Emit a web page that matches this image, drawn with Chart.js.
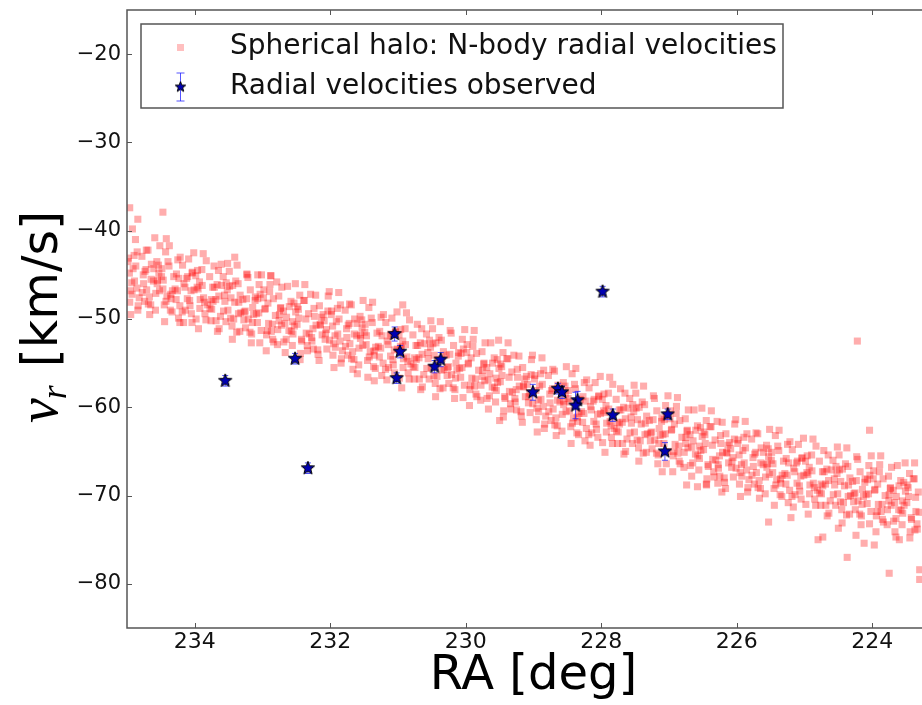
<!DOCTYPE html>
<html>
<head>
<meta charset="utf-8">
<script src="https://cdn.jsdelivr.net/npm/chart.js@4.4.1/dist/chart.umd.min.js"></script>
<style>
html, body { margin: 0; padding: 0; overflow: hidden; background: #fff; }
</style>
</head>
<body>
<canvas id="myChart" width="945" height="705"></canvas>
<script>
// axis ticks
const xTickValues = [234, 232, 230, 228, 226, 224];
const yTickValues = [-80, -70, -60, -50, -40, -30, -20];

// observed stars: RA [deg], v_r [km/s], error
const starRa  = [233.55, 232.52, 232.33, 231.05, 230.97, 231.02, 230.37, 230.46, 229.01, 228.64, 228.58, 228.35, 228.38, 227.98, 227.83, 227.02, 227.06];
const starVr  = [-57.0, -54.5, -66.9, -51.7, -53.7, -56.7, -54.6, -55.4, -58.3, -57.9, -58.3, -59.2, -59.8, -46.9, -60.9, -60.8, -65.0];
const starErr = [0.6, 0.6, 0.6, 0.8, 0.7, 0.6, 0.8, 0.7, 0.9, 0.6, 0.7, 1.0, 1.5, 0.6, 0.7, 0.6, 1.0];

// N-body particles: [RA, v_r]
const haloPointsA = [
[234.98,-43.1],[234.93,-45.9],[234.96,-48.1],[234.91,-44.3],[234.95,-46.8],
[234.89,-45.7],[234.85,-42.4],[234.82,-47.6],[234.87,-44.0],[234.84,-49.0],
[234.76,-45.0],[234.71,-46.7],[234.78,-42.9],[234.74,-48.0],[234.72,-44.4],
[234.67,-47.5],[234.64,-43.8],[234.61,-45.7],[234.69,-42.2],[234.65,-48.4],
[234.53,-44.8],[234.58,-49.0],[234.55,-45.6],[234.52,-46.8],[234.56,-43.5],
[234.45,-48.4],[234.49,-45.2],[234.43,-42.4],[234.47,-46.6],[234.41,-47.4],
[234.38,-44.0],[234.33,-46.8],[234.36,-49.0],[234.31,-45.2],[234.35,-47.7],
[234.29,-46.6],[234.25,-43.3],[234.22,-48.5],[234.27,-44.9],[234.24,-49.9],
[234.16,-46.0],[234.11,-47.7],[234.18,-43.9],[234.14,-49.0],[234.12,-45.4],
[234.07,-48.5],[234.04,-44.8],[234.01,-46.7],[234.09,-43.2],[234.05,-49.4],
[233.93,-45.8],[233.98,-50.0],[233.95,-46.6],[233.92,-47.8],[233.96,-44.5],
[233.85,-49.4],[233.89,-46.2],[233.83,-43.4],[233.87,-47.6],[233.81,-48.4],
[233.78,-45.2],[233.73,-48.0],[233.76,-50.2],[233.71,-46.4],[233.75,-48.9],
[233.69,-47.8],[233.65,-44.5],[233.62,-49.7],[233.67,-46.1],[233.64,-51.1],
[233.56,-47.3],[233.51,-49.0],[233.58,-45.2],[233.54,-50.3],[233.52,-46.7],
[233.47,-49.9],[233.44,-46.2],[233.41,-48.1],[233.49,-44.6],[233.45,-50.8],
[233.33,-47.3],[233.38,-51.5],[233.35,-48.1],[233.32,-49.3],[233.36,-46.0],
[233.25,-51.0],[233.29,-47.8],[233.23,-45.0],[233.27,-49.2],[233.21,-50.0],
[233.18,-46.7],[233.13,-49.5],[233.16,-51.7],[233.11,-47.9],[233.15,-50.4],
[233.09,-49.4],[233.05,-46.1],[233.02,-51.3],[233.07,-47.7],[233.04,-52.7],
[232.96,-48.8],[232.91,-50.5],[232.98,-46.7],[232.94,-51.8],[232.92,-48.2],
[232.87,-51.4],[232.84,-47.7],[232.81,-49.6],[232.89,-46.1],[232.85,-52.3],
[232.73,-48.7],[232.78,-52.9],[232.75,-49.5],[232.72,-50.7],[232.76,-47.4],
[232.65,-52.3],[232.69,-49.1],[232.63,-46.3],[232.67,-50.5],[232.61,-51.3],
[232.58,-48.0],[232.53,-50.8],[232.56,-53.0],[232.51,-49.2],[232.55,-51.7],
[232.49,-50.6],[232.45,-47.3],[232.42,-52.5],[232.47,-48.9],[232.44,-53.9],
[232.36,-50.0],[232.31,-51.7],[232.38,-47.9],[232.34,-53.0],[232.32,-49.4],
[232.27,-52.5],[232.24,-48.8],[232.21,-50.7],[232.29,-47.2],[232.25,-53.4],
[232.13,-49.8],[232.18,-54.0],[232.15,-50.6],[232.12,-51.8],[232.16,-48.5],
[232.05,-53.4],[232.09,-50.2],[232.03,-47.4],[232.07,-51.6],[232.01,-52.4],
[231.98,-49.1],[231.93,-51.9],[231.96,-54.1],[231.91,-50.3],[231.95,-52.8],
[231.89,-51.7],[231.85,-48.4],[231.82,-53.6],[231.87,-50.0],[231.84,-55.0],
[231.76,-51.1],[231.71,-52.8],[231.78,-49.0],[231.74,-54.1],[231.72,-50.5],
[231.67,-53.7],[231.64,-50.0],[231.61,-51.9],[231.69,-48.4],[231.65,-54.6],
[231.53,-51.0],[231.58,-55.2],[231.55,-51.8],[231.52,-53.0],[231.56,-49.7],
[231.45,-54.7],[231.49,-51.5],[231.43,-48.7],[231.47,-52.9],[231.41,-53.7],
[231.38,-50.4],[231.33,-53.2],[231.36,-55.4],[231.31,-51.6],[231.35,-54.1],
[231.29,-53.1],[231.25,-49.8],[231.22,-55.0],[231.27,-51.4],[231.24,-56.4],
[231.16,-52.5],[231.11,-54.2],[231.18,-50.4],[231.14,-55.5],[231.12,-51.9],
[231.07,-55.2],[231.04,-51.5],[231.01,-53.4],[231.09,-49.9],[231.05,-56.1],
[230.93,-52.5],[230.98,-56.7],[230.95,-53.3],[230.92,-54.5],[230.96,-51.2],
[230.85,-56.1],[230.89,-52.9],[230.83,-50.1],[230.87,-54.3],[230.81,-55.1],
[230.78,-51.8],[230.73,-54.6],[230.76,-56.8],[230.71,-53.0],[230.75,-55.5],
[230.69,-54.4],[230.65,-51.1],[230.62,-56.3],[230.67,-52.7],[230.64,-57.7],
[230.56,-53.8],[230.51,-55.5],[230.58,-51.7],[230.54,-56.8],[230.52,-53.2],
[230.47,-56.4],[230.44,-52.7],[230.41,-54.6],[230.49,-51.1],[230.45,-57.3],
[230.33,-53.7],[230.38,-57.9],[230.35,-54.5],[230.32,-55.7],[230.36,-52.4],
[230.25,-57.3],[230.29,-54.1],[230.23,-51.3],[230.27,-55.5],[230.21,-56.3],
[230.18,-53.0],[230.13,-55.8],[230.16,-58.0],[230.11,-54.2],[230.15,-56.7],
[230.09,-55.6],[230.05,-52.3],[230.02,-57.5],[230.07,-53.9],[230.04,-58.9],
[229.96,-55.0],[229.91,-56.7],[229.98,-52.9],[229.94,-58.0],[229.92,-54.4],
[229.87,-57.6],[229.84,-53.9],[229.81,-55.8],[229.89,-52.3],[229.85,-58.5],
[229.73,-55.0],[229.78,-59.2],[229.75,-55.8],[229.72,-57.0],[229.76,-53.7],
[229.65,-58.7],[229.69,-55.5],[229.63,-52.7],[229.67,-56.9],[229.61,-57.7],
[229.58,-54.4],[229.53,-57.2],[229.56,-59.4],[229.51,-55.6],[229.55,-58.1],
[229.49,-57.1],[229.45,-53.8],[229.42,-59.0],[229.47,-55.4],[229.44,-60.4],
[229.36,-56.6],[229.31,-58.3],[229.38,-54.5],[229.34,-59.6],[229.32,-56.0],
[229.27,-59.4],[229.24,-55.7],[229.21,-57.6],[229.29,-54.1],[229.25,-60.3],
[229.13,-56.8],[229.18,-61.0],[229.15,-57.6],[229.12,-58.8],[229.16,-55.5],
[229.05,-60.6],[229.09,-57.4],[229.03,-54.6],[229.07,-58.8],[229.01,-59.6],
[228.98,-56.4],[228.93,-59.2],[228.96,-61.4],[228.91,-57.6],[228.95,-60.1],
[228.89,-59.1],[228.85,-55.8],[228.82,-61.0],[228.87,-57.4],[228.84,-62.4],
[228.76,-58.5],[228.71,-60.2],[228.78,-56.4],[228.74,-61.5],[228.72,-57.9],
[228.67,-61.2],[228.64,-57.5],[228.61,-59.4],[228.69,-55.9],[228.65,-62.1],
[228.53,-58.5],[228.58,-62.7],[228.55,-59.3],[228.52,-60.5],[228.56,-57.2],
[228.45,-62.2],[228.49,-59.0],[228.43,-56.2],[228.47,-60.4],[228.41,-61.2],
[228.38,-57.9],[228.33,-60.7],[228.36,-62.9],[228.31,-59.1],[228.35,-61.6],
[228.29,-60.5],[228.25,-57.2],[228.22,-62.4],[228.27,-58.8],[228.24,-63.8],
[228.16,-59.9],[228.11,-61.6],[228.18,-57.8],[228.14,-62.9],[228.12,-59.3],
[228.07,-62.5],[228.04,-58.8],[228.01,-60.7],[228.09,-57.2],[228.05,-63.4],
[227.93,-59.8],[227.98,-64.0],[227.95,-60.6],[227.92,-61.8],[227.96,-58.5],
[227.85,-63.4],[227.89,-60.2],[227.83,-57.4],[227.87,-61.6],[227.81,-62.4],
[227.78,-59.1],[227.73,-61.9],[227.76,-64.1],[227.71,-60.3],[227.75,-62.8],
[227.69,-61.7],[227.65,-58.4],[227.62,-63.6],[227.67,-60.0],[227.64,-65.0],
[227.56,-61.1],[227.51,-62.8],[227.58,-59.0],[227.54,-64.1],[227.52,-60.5],
[227.47,-63.7],[227.44,-60.0],[227.41,-61.9],[227.49,-58.4],[227.45,-64.6],
[227.33,-61.0],[227.38,-65.2],[227.35,-61.8],[227.32,-63.0],[227.36,-59.7],
[227.25,-64.7],[227.29,-61.5],[227.23,-58.7],[227.27,-62.9],[227.21,-63.7],
[227.18,-60.4],[227.13,-63.2],[227.16,-65.4],[227.11,-61.6],[227.15,-64.1],
[227.09,-63.1],[227.05,-59.8],[227.02,-65.0],[227.07,-61.4],[227.04,-66.4],
[226.96,-62.5],[226.91,-64.2],[226.98,-60.4],[226.94,-65.5],[226.92,-61.9],
[226.87,-65.2],[226.84,-61.5],[226.81,-63.4],[226.89,-59.9],[226.85,-66.1],
[226.73,-62.6],[226.78,-66.8],[226.75,-63.4],[226.72,-64.6],[226.76,-61.3],
[226.65,-66.3],[226.69,-63.1],[226.63,-60.3],[226.67,-64.5],[226.61,-65.3],
[226.58,-62.1],[226.53,-64.9],[226.56,-67.1],[226.51,-63.3],[226.55,-65.8],
[226.49,-64.8],[226.45,-61.5],[226.42,-66.7],[226.47,-63.1],[226.44,-68.1],
[226.36,-64.3],[226.31,-66.0],[226.38,-62.2],[226.34,-67.3],[226.32,-63.7],
[226.27,-66.9],[226.24,-63.2],[226.21,-65.1],[226.29,-61.6],[226.25,-67.8],
[226.13,-64.3],[226.18,-68.5],[226.15,-65.1],[226.12,-66.3],[226.16,-63.0],
[226.05,-67.9],[226.09,-64.7],[226.03,-61.9],[226.07,-66.1],[226.01,-66.9],
[225.98,-63.7],[225.93,-66.5],[225.96,-68.7],[225.91,-64.9],[225.95,-67.4],
[225.89,-66.3],[225.85,-63.0],[225.82,-68.2],[225.87,-64.6],[225.84,-69.6],
[225.76,-65.7],[225.71,-67.4],[225.78,-63.6],[225.74,-68.7],[225.72,-65.1],
[225.67,-68.3],[225.64,-64.6],[225.61,-66.5],[225.69,-63.0],[225.65,-69.2],
[225.53,-65.6],[225.58,-69.8],[225.55,-66.4],[225.52,-67.6],[225.56,-64.3],
[225.45,-69.2],[225.49,-66.0],[225.43,-63.2],[225.47,-67.4],[225.41,-68.2],
[225.38,-64.9],[225.33,-67.7],[225.36,-69.9],[225.31,-66.1],[225.35,-68.6],
[225.29,-67.5],[225.25,-64.2],[225.22,-69.4],[225.27,-65.8],[225.24,-70.8],
[225.16,-66.9],[225.11,-68.6],[225.18,-64.8],[225.14,-69.9],[225.12,-66.3],
[225.07,-69.5],[225.04,-65.8],[225.01,-67.7],[225.09,-64.2],[225.05,-70.4],
[224.93,-66.8],[224.98,-71.0],[224.95,-67.6],[224.92,-68.8],[224.96,-65.5],
[224.85,-70.4],[224.89,-67.2],[224.83,-64.4],[224.87,-68.6],[224.81,-69.4],
[224.78,-66.1],[224.73,-68.9],[224.76,-71.1],[224.71,-67.3],[224.75,-69.8],
[224.69,-68.7],[224.65,-65.4],[224.62,-70.6],[224.67,-67.0],[224.64,-72.0],
[224.56,-68.1],[224.51,-69.8],[224.58,-66.0],[224.54,-71.1],[224.52,-67.5],
[224.47,-70.7],[224.44,-67.0],[224.41,-68.9],[224.49,-65.4],[224.45,-71.6],
[224.33,-68.0],[224.38,-72.2],[224.35,-68.8],[224.32,-70.0],[224.36,-66.7],
[224.25,-71.6],[224.29,-68.4],[224.23,-65.6],[224.27,-69.8],[224.21,-70.6],
[224.18,-67.3],[224.13,-70.1],[224.16,-72.3],[224.11,-68.5],[224.15,-71.0],
[224.09,-69.9],[224.05,-66.6],[224.02,-71.8],[224.07,-68.2],[224.04,-73.2],
[223.96,-69.3],[223.91,-71.0],[223.98,-67.2],[223.94,-72.3],[223.92,-68.7],
[223.87,-71.8],[223.84,-68.1],[223.81,-70.0],[223.89,-66.5],[223.85,-72.7],
[223.73,-69.1],[223.78,-73.3],[223.75,-69.9],[223.72,-71.1],[223.76,-67.8],
[223.65,-72.6],[223.69,-69.4],[223.63,-66.6],[223.67,-70.8],[223.61,-71.6],
[223.58,-68.3],[223.53,-71.1],[223.56,-73.3],[223.51,-69.5],[223.55,-72.0],
[223.49,-70.8],[223.45,-67.5],[223.42,-72.7],[223.47,-69.1],[223.44,-74.1],
[223.36,-70.2],[223.31,-71.9],[223.38,-68.1],[223.34,-73.2],[223.32,-69.6],
// stragglers
[234.96,-37.4],[234.47,-37.9],[234.84,-38.7],[234.92,-39.8],[234.59,-40.8],[234.42,-40.9],
[234.22,-50.4],[234.04,-50.4],[233.41,-43.0],[233.61,-43.8],[233.23,-44.9],[233.07,-45.0],
[232.88,-45.1],[232.79,-45.8],[230.93,-48.4],[231.60,-56.2],[231.35,-57.0],[229.50,-61.5],
[227.10,-67.3],[226.74,-68.8],[226.58,-69.0],[226.45,-68.7],[226.28,-68.6],[226.22,-69.6],
[224.22,-52.5],[224.04,-62.6],[223.75,-78.8],[223.30,-78.4],[223.30,-79.5],[224.37,-77.0],
[224.80,-75.0],[224.73,-74.7],[224.50,-73.7],[224.24,-74.5],[224.12,-75.4],[223.97,-75.6],
[223.65,-74.7],[223.60,-75.0],[223.37,-73.9],[225.53,-73.0],[225.20,-72.5]
];

const haloPointsB = [
[234.965,-44.8],[234.925,-47.2],[234.985,-43.5],[234.945,-49.5],
[234.855,-46.5],[234.895,-42.8],[234.835,-48.5],[234.875,-41.0],
[234.715,-42.2],[234.755,-46.0],[234.775,-47.0],[234.735,-44.6],
[234.685,-48.3],[234.605,-44.3],[234.645,-45.5],[234.665,-49.5],
[234.535,-43.9],[234.575,-47.1],[234.515,-41.7],[234.555,-46.0],
[234.465,-45.6],[234.425,-48.0],[234.485,-44.3],[234.445,-50.3],
[234.355,-47.2],[234.395,-43.5],[234.335,-49.2],[234.375,-41.7],
[234.215,-43.0],[234.255,-46.8],[234.275,-47.8],[234.235,-45.4],
[234.185,-49.2],[234.105,-45.2],[234.145,-46.4],[234.165,-50.4],
[234.035,-44.7],[234.075,-47.9],[234.015,-42.5],[234.055,-46.8],
[233.965,-46.4],[233.925,-48.8],[233.985,-45.1],[233.945,-51.1],
[233.855,-48.1],[233.895,-44.4],[233.835,-50.1],[233.875,-42.6],
[233.715,-44.0],[233.755,-47.8],[233.775,-48.8],[233.735,-46.4],
[233.685,-50.2],[233.605,-46.2],[233.645,-47.4],[233.665,-51.4],
[233.535,-45.9],[233.575,-49.1],[233.515,-43.7],[233.555,-48.0],
[233.465,-47.6],[233.425,-50.0],[233.485,-46.3],[233.445,-52.3],
[233.355,-49.4],[233.395,-45.7],[233.335,-51.4],[233.375,-43.9],
[233.215,-45.3],[233.255,-49.1],[233.275,-50.1],[233.235,-47.7],
[233.185,-51.5],[233.105,-47.5],[233.145,-48.7],[233.165,-52.7],
[233.035,-47.2],[233.075,-50.4],[233.015,-45.0],[233.055,-49.3],
[232.965,-48.9],[232.925,-51.3],[232.985,-47.6],[232.945,-53.6],
[232.855,-50.6],[232.895,-46.9],[232.835,-52.6],[232.875,-45.1],
[232.715,-46.4],[232.755,-50.2],[232.775,-51.2],[232.735,-48.8],
[232.685,-52.6],[232.605,-48.6],[232.645,-49.8],[232.665,-53.8],
[232.535,-48.2],[232.575,-51.4],[232.515,-46.0],[232.555,-50.3],
[232.465,-49.9],[232.425,-52.3],[232.485,-48.6],[232.445,-54.6],
[232.355,-51.6],[232.395,-47.9],[232.335,-53.6],[232.375,-46.1],
[232.215,-47.3],[232.255,-51.1],[232.275,-52.1],[232.235,-49.7],
[232.185,-53.5],[232.105,-49.5],[232.145,-50.7],[232.165,-54.7],
[232.035,-49.1],[232.075,-52.3],[232.015,-46.9],[232.055,-51.2],
[231.965,-50.8],[231.925,-53.2],[231.985,-49.5],[231.945,-55.5],
[231.855,-52.5],[231.895,-48.8],[231.835,-54.5],[231.875,-47.0],
[231.715,-48.3],[231.755,-52.1],[231.775,-53.1],[231.735,-50.7],
[231.685,-54.5],[231.605,-50.5],[231.645,-51.7],[231.665,-55.7],
[231.535,-50.1],[231.575,-53.3],[231.515,-47.9],[231.555,-52.2],
[231.465,-51.9],[231.425,-54.3],[231.485,-50.6],[231.445,-56.6],
[231.355,-53.6],[231.395,-49.9],[231.335,-55.6],[231.375,-48.1],
[231.215,-49.5],[231.255,-53.3],[231.275,-54.3],[231.235,-51.9],
[231.185,-55.7],[231.105,-51.7],[231.145,-52.9],[231.165,-56.9],
[231.035,-51.4],[231.075,-54.6],[231.015,-49.2],[231.055,-53.5],
[230.965,-53.1],[230.925,-55.5],[230.985,-51.8],[230.945,-57.8],
[230.855,-54.8],[230.895,-51.1],[230.835,-56.8],[230.875,-49.3],
[230.715,-50.6],[230.755,-54.4],[230.775,-55.4],[230.735,-53.0],
[230.685,-56.8],[230.605,-52.8],[230.645,-54.0],[230.665,-58.0],
[230.535,-52.4],[230.575,-55.6],[230.515,-50.2],[230.555,-54.5],
[230.465,-54.1],[230.425,-56.5],[230.485,-52.8],[230.445,-58.8],
[230.355,-55.8],[230.395,-52.1],[230.335,-57.8],[230.375,-50.3],
[230.215,-51.6],[230.255,-55.4],[230.275,-56.4],[230.235,-54.0],
[230.185,-57.8],[230.105,-53.8],[230.145,-55.0],[230.165,-59.0],
[230.035,-53.4],[230.075,-56.6],[230.015,-51.2],[230.055,-55.5],
[229.965,-55.1],[229.925,-57.5],[229.985,-53.8],[229.945,-59.8],
[229.855,-56.8],[229.895,-53.1],[229.835,-58.8],[229.875,-51.3],
[229.715,-52.7],[229.755,-56.5],[229.775,-57.5],[229.735,-55.1],
[229.685,-59.0],[229.605,-55.0],[229.645,-56.2],[229.665,-60.2],
[229.535,-54.6],[229.575,-57.8],[229.515,-52.4],[229.555,-56.7],
[229.465,-56.4],[229.425,-58.8],[229.485,-55.1],[229.445,-61.1],
[229.355,-58.2],[229.395,-54.5],[229.335,-60.2],[229.375,-52.7],
[229.215,-54.2],[229.255,-58.0],[229.275,-59.0],[229.235,-56.6],
[229.185,-60.5],[229.105,-56.5],[229.145,-57.7],[229.165,-61.7],
[229.035,-56.3],[229.075,-59.5],[229.015,-54.1],[229.055,-58.4],
[228.965,-58.1],[228.925,-60.5],[228.985,-56.8],[228.945,-62.8],
[228.855,-59.9],[228.895,-56.2],[228.835,-61.9],[228.875,-54.4],
[228.715,-55.7],[228.755,-59.5],[228.775,-60.5],[228.735,-58.1],
[228.685,-62.0],[228.605,-58.0],[228.645,-59.2],[228.665,-63.2],
[228.535,-57.6],[228.575,-60.8],[228.515,-55.4],[228.555,-59.7],
[228.465,-59.4],[228.425,-61.8],[228.485,-58.1],[228.445,-64.1],
[228.355,-61.1],[228.395,-57.4],[228.335,-63.1],[228.375,-55.6],
[228.215,-56.9],[228.255,-60.7],[228.275,-61.7],[228.235,-59.3],
[228.185,-63.1],[228.105,-59.1],[228.145,-60.3],[228.165,-64.3],
[228.035,-58.7],[228.075,-61.9],[228.015,-56.5],[228.055,-60.8],
[227.965,-60.4],[227.925,-62.8],[227.985,-59.1],[227.945,-65.1],
[227.855,-62.1],[227.895,-58.4],[227.835,-64.1],[227.875,-56.6],
[227.715,-57.9],[227.755,-61.7],[227.775,-62.7],[227.735,-60.3],
[227.685,-64.1],[227.605,-60.1],[227.645,-61.3],[227.665,-65.3],
[227.535,-59.7],[227.575,-62.9],[227.515,-57.5],[227.555,-61.8],
[227.465,-61.4],[227.425,-63.8],[227.485,-60.1],[227.445,-66.1],
[227.355,-63.1],[227.395,-59.4],[227.335,-65.1],[227.375,-57.6],
[227.215,-59.0],[227.255,-62.8],[227.275,-63.8],[227.235,-61.4],
[227.185,-65.2],[227.105,-61.2],[227.145,-62.4],[227.165,-66.4],
[227.035,-60.9],[227.075,-64.1],[227.015,-58.7],[227.055,-63.0],
[226.965,-62.6],[226.925,-65.0],[226.985,-61.3],[226.945,-67.3],
[226.855,-64.4],[226.895,-60.7],[226.835,-66.4],[226.875,-58.9],
[226.715,-60.3],[226.755,-64.1],[226.775,-65.1],[226.735,-62.7],
[226.685,-66.6],[226.605,-62.6],[226.645,-63.8],[226.665,-67.8],
[226.535,-62.3],[226.575,-65.5],[226.515,-60.1],[226.555,-64.4],
[226.465,-64.1],[226.425,-66.5],[226.485,-62.8],[226.445,-68.8],
[226.355,-65.9],[226.395,-62.2],[226.335,-67.9],[226.375,-60.4],
[226.215,-61.7],[226.255,-65.5],[226.275,-66.5],[226.235,-64.1],
[226.185,-68.0],[226.105,-64.0],[226.145,-65.2],[226.165,-69.2],
[226.035,-63.6],[226.075,-66.8],[226.015,-61.4],[226.055,-65.7],
[225.965,-65.4],[225.925,-67.8],[225.985,-64.1],[225.945,-70.1],
[225.855,-67.1],[225.895,-63.4],[225.835,-69.1],[225.875,-61.6],
[225.715,-62.9],[225.755,-66.7],[225.775,-67.7],[225.735,-65.3],
[225.685,-69.1],[225.605,-65.1],[225.645,-66.3],[225.665,-70.3],
[225.535,-64.7],[225.575,-67.9],[225.515,-62.5],[225.555,-66.8],
[225.465,-66.4],[225.425,-68.8],[225.485,-65.1],[225.445,-71.1],
[225.355,-68.1],[225.395,-64.4],[225.335,-70.1],[225.375,-62.6],
[225.215,-63.9],[225.255,-67.7],[225.275,-68.7],[225.235,-66.3],
[225.185,-70.1],[225.105,-66.1],[225.145,-67.3],[225.165,-71.3],
[225.035,-65.7],[225.075,-68.9],[225.015,-63.5],[225.055,-67.8],
[224.965,-67.4],[224.925,-69.8],[224.985,-66.1],[224.945,-72.1],
[224.855,-69.1],[224.895,-65.4],[224.835,-71.1],[224.875,-63.6],
[224.715,-64.9],[224.755,-68.7],[224.775,-69.7],[224.735,-67.3],
[224.685,-71.1],[224.605,-67.1],[224.645,-68.3],[224.665,-72.3],
[224.535,-66.7],[224.575,-69.9],[224.515,-64.5],[224.555,-68.8],
[224.465,-68.4],[224.425,-70.8],[224.485,-67.1],[224.445,-73.1],
[224.355,-70.1],[224.395,-66.4],[224.335,-72.1],[224.375,-64.6],
[224.215,-65.9],[224.255,-69.7],[224.275,-70.7],[224.235,-68.3],
[224.185,-72.1],[224.105,-68.1],[224.145,-69.3],[224.165,-73.3],
[224.035,-67.7],[224.075,-70.9],[224.015,-65.5],[224.055,-69.8],
[223.965,-69.4],[223.925,-71.8],[223.985,-68.1],[223.945,-74.1],
[223.855,-71.0],[223.895,-67.3],[223.835,-73.0],[223.875,-65.5],
[223.715,-66.8],[223.755,-70.6],[223.775,-71.6],[223.735,-69.2],
[223.685,-72.9],[223.605,-68.9],[223.645,-70.1],[223.665,-74.1],
[223.535,-68.5],[223.575,-71.7],[223.515,-66.3],[223.555,-70.6],
[223.465,-70.1],[223.425,-72.5],[223.485,-68.8],[223.445,-74.8],
[223.355,-71.8],[223.395,-68.1],[223.335,-73.8],[223.375,-66.3]
];

const FONT = '"DejaVu Sans", sans-serif';
const AXIS_COLOR = '#555';

function makeStar(r, fill, edge) {
    var c = document.createElement('canvas');
    var s = Math.ceil(r * 2 + 4);
    c.width = s;
    c.height = s;
    var g = c.getContext('2d');
    g.translate(s / 2, s / 2);
    g.beginPath();
    for (var i = 0; i < 10; i++) {
        var rad = i % 2 === 0 ? r : r * 0.42;
        var a = -Math.PI / 2 + i * Math.PI / 5;
        g.lineTo(rad * Math.cos(a), rad * Math.sin(a));
    }
    g.closePath();
    g.fillStyle = fill;
    g.fill();
    g.lineWidth = 1;
    g.strokeStyle = edge;
    g.stroke();
    return c;
}

const starImg = makeStar(7, '#0000b4', '#000');
const starSmall = makeStar(5.5, '#0000b4', '#000');

// frame, inward ticks, error bars, legend, y title
const decorations = {
    id: 'decorations',
    beforeDatasetDraw(chart, args) {
        if (args.index !== 0) return;
        const ctx = chart.ctx;
        const xs = chart.scales.x, ys = chart.scales.y;
        ctx.save();
        ctx.strokeStyle = 'rgba(40,40,255,0.8)';
        ctx.lineWidth = 1;
        starRa.forEach((ra, i) => {
            const px = xs.getPixelForValue(ra);
            const y1 = ys.getPixelForValue(starVr[i] + starErr[i]);
            const y2 = ys.getPixelForValue(starVr[i] - starErr[i]);
            ctx.beginPath();
            ctx.moveTo(px, y1); ctx.lineTo(px, y2);
            ctx.moveTo(px - 3, y1); ctx.lineTo(px + 3, y1);
            ctx.moveTo(px - 3, y2); ctx.lineTo(px + 3, y2);
            ctx.stroke();
        });
        ctx.restore();
    },
    afterDraw(chart) {
        const ctx = chart.ctx;
        const a = chart.chartArea;
        const xs = chart.scales.x, ys = chart.scales.y;
        ctx.save();

        // frame
        ctx.strokeStyle = AXIS_COLOR;
        ctx.lineWidth = 1.5;
        ctx.strokeRect(a.left, a.top, a.right - a.left, a.bottom - a.top);

        // inward ticks
        ctx.lineWidth = 1;
        ctx.beginPath();
        xTickValues.forEach(v => {
            const px = Math.round(xs.getPixelForValue(v)) + 0.5;
            ctx.moveTo(px, a.bottom); ctx.lineTo(px, a.bottom - 5);
            ctx.moveTo(px, a.top); ctx.lineTo(px, a.top + 5);
        });
        yTickValues.forEach(v => {
            const py = Math.round(ys.getPixelForValue(v)) + 0.5;
            ctx.moveTo(a.left, py); ctx.lineTo(a.left + 5, py);
            ctx.moveTo(a.right, py); ctx.lineTo(a.right - 5, py);
        });
        ctx.stroke();

        // legend
        const lx = 141, ly = 24, lw = 642, lh = 84;
        ctx.fillStyle = '#fff';
        ctx.fillRect(lx, ly, lw, lh);
        ctx.strokeStyle = AXIS_COLOR;
        ctx.lineWidth = 1.5;
        ctx.strokeRect(lx, ly, lw, lh);

        ctx.fillStyle = 'rgba(255,0,0,0.25)';
        ctx.fillRect(177, 44, 7, 7);

        ctx.strokeStyle = 'rgba(40,40,255,0.8)';
        ctx.lineWidth = 1;
        ctx.beginPath();
        ctx.moveTo(180.5, 73); ctx.lineTo(180.5, 101);
        ctx.moveTo(176.5, 73); ctx.lineTo(184.5, 73);
        ctx.moveTo(176.5, 101); ctx.lineTo(184.5, 101);
        ctx.stroke();
        ctx.drawImage(starSmall, 180.5 - starSmall.width / 2, 87 - starSmall.height / 2);

        ctx.fillStyle = '#111';
        ctx.font = '28px ' + FONT;
        ctx.textBaseline = 'middle';
        ctx.textAlign = 'left';
        ctx.fillText('Spherical halo: N-body radial velocities', 230, 47);
        ctx.fillText('Radial velocities observed', 230, 87);

        // y title: v_r [km/s]
        ctx.translate(56.5, 317);
        ctx.rotate(-Math.PI / 2);
        ctx.textBaseline = 'alphabetic';
        ctx.fillStyle = '#000';
        const vFont = 'italic 56px "Liberation Serif", serif';
        const rFont = 'italic 36px "Liberation Serif", serif';
        const uFont = '49px ' + FONT;
        ctx.font = vFont; const wv = ctx.measureText('v').width;
        ctx.font = rFont; const wr = ctx.measureText('r').width;
        ctx.font = uFont; const wu = ctx.measureText('[km/s]').width;
        const gap = 17;
        let x0 = -(wv + wr + gap + wu) / 2;
        ctx.font = vFont; ctx.fillText('v', x0, 0);
        ctx.font = rFont; ctx.fillText('r', x0 + wv - 1, 9);
        ctx.font = uFont; ctx.fillText('[km/s]', x0 + wv + wr + gap, 0);

        ctx.restore();
    }
};

new Chart(document.getElementById('myChart'), {
    type: 'scatter',
    data: {
        datasets: [{
            label: 'Radial velocities observed',
            data: starRa.map((ra, i) => ({ x: ra, y: starVr[i] })),
            pointStyle: starImg,
            order: 0
        }, {
            label: 'Spherical halo: N-body radial velocities',
            data: haloPointsA.concat(haloPointsB).map(p => ({ x: p[0], y: p[1] })),
            pointStyle: 'rect',
            pointRadius: 5,
            borderWidth: 0,
            backgroundColor: 'rgba(255,0,0,0.32)',
            order: 1
        }]
    },
    options: {
        responsive: false,
        animation: false,
        events: [],
        layout: { padding: { left: 0, top: 10, right: 4, bottom: 0 } },
        plugins: {
            legend: { display: false },
            tooltip: { enabled: false }
        },
        scales: {
            x: {
                type: 'linear',
                reverse: true,
                min: 223,
                max: 235,
                afterBuildTicks: s => { s.ticks = xTickValues.map(v => ({ value: v })); },
                afterFit: s => { s.height = 77; s.paddingLeft = 0; s.paddingRight = 0; },
                grid: { display: false, drawTicks: false },
                border: { display: false },
                ticks: { color: '#111', padding: 1, font: { family: FONT, size: 22 } },
                title: {
                    display: true,
                    text: 'RA [deg]',
                    color: '#000',
                    padding: { top: 0, bottom: 0 },
                    font: { family: FONT, size: 48 }
                }
            },
            y: {
                min: -85,
                max: -15,
                afterBuildTicks: s => { s.ticks = yTickValues.map(v => ({ value: v })); },
                afterFit: s => { s.width = 127; s.paddingTop = 0; s.paddingBottom = 0; },
                grid: { display: false, drawTicks: false },
                border: { display: false },
                ticks: {
                    color: '#111',
                    padding: 6,
                    font: { family: FONT, size: 21 },
                    callback: v => String(v).replace('-', '\u2212')
                }
            }
        }
    },
    plugins: [decorations]
});
</script>
</body>
</html>
